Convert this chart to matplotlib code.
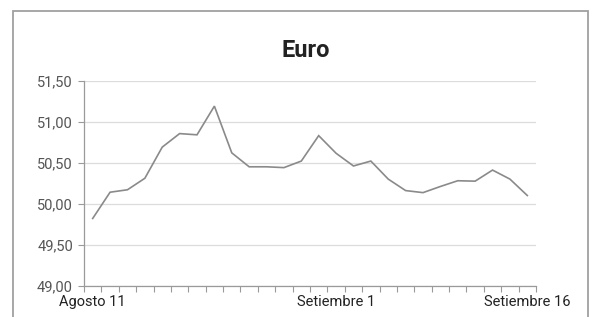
import matplotlib
matplotlib.use("Agg")
import matplotlib.pyplot as plt
from matplotlib.patches import Rectangle
from matplotlib.ticker import FuncFormatter, FixedLocator

plt.rcParams['font.family'] = ['Roboto', 'DejaVu Sans']

# tipo de cambio euro, 26 dias habiles
valores = [49.82, 50.14, 50.17, 50.31, 50.69, 50.855, 50.84, 51.19, 50.62,
           50.45, 50.45, 50.44, 50.52, 50.83, 50.615, 50.46, 50.52, 50.30,
           50.16, 50.135, 50.21, 50.28, 50.275, 50.41, 50.30, 50.10]
etiquetas = ["Agosto 11", "Setiembre 1", "Setiembre 16"]
pos_etiquetas = [0, 14, 25]
y_ticks = [49.0, 49.5, 50.0, 50.5, 51.0, 51.5]

fig = plt.figure(figsize=(6.03, 3.17), dpi=100)
ax = fig.add_axes([84 / 603, 1 - 285.7 / 317, (536 - 84) / 603, (285.7 - 80.7) / 317])

x = list(range(len(valores)))
ax.plot(x, valores, color="#8a8a8a", lw=1.2, solid_joinstyle="miter")

ax.set_xlim(-0.5, len(valores) - 0.5)
ax.set_ylim(49.0, 51.5)
ax.set_yticks(y_ticks)
ax.yaxis.set_major_formatter(FuncFormatter(lambda v, p: f"{v:.2f}".replace(".", ",")))
ax.grid(axis="y", color="#dcdcdc", lw=0.9)
ax.set_axisbelow(True)

# marcas entre categorias
ax.xaxis.set_major_locator(FixedLocator([i - 0.5 for i in range(len(valores) + 1)]))
ax.xaxis.set_major_formatter(FuncFormatter(lambda v, p: ""))
ax.xaxis.set_minor_locator(FixedLocator(pos_etiquetas))
ax.set_xticklabels(etiquetas, minor=True)
ax.tick_params(axis="x", which="major", length=4, width=0.8, color="#9a9a9a")
ax.tick_params(axis="x", which="minor", length=0, pad=7, labelsize=10.5, labelcolor="#222222")
ax.tick_params(axis="y", length=4, width=0.8, color="#9a9a9a", labelsize=10.5,
               labelcolor="#555555", pad=4)

for s in ["top", "right"]:
    ax.spines[s].set_visible(False)
for s in ["left", "bottom"]:
    ax.spines[s].set_color("#9a9a9a")
    ax.spines[s].set_linewidth(0.9)

fig.text(305.5 / 603, 1 - 56.7 / 317, "Euro", ha="center", va="baseline",
         fontsize=17, fontweight="bold", color="#222222")

fig.patches.append(Rectangle((13 / 603, -0.1), (588 - 13) / 603, 1 - 11 / 317 + 0.1,
                             transform=fig.transFigure, fill=False,
                             edgecolor="#a0a0a0", lw=1.3))

fig.savefig("out.png", dpi=100)
